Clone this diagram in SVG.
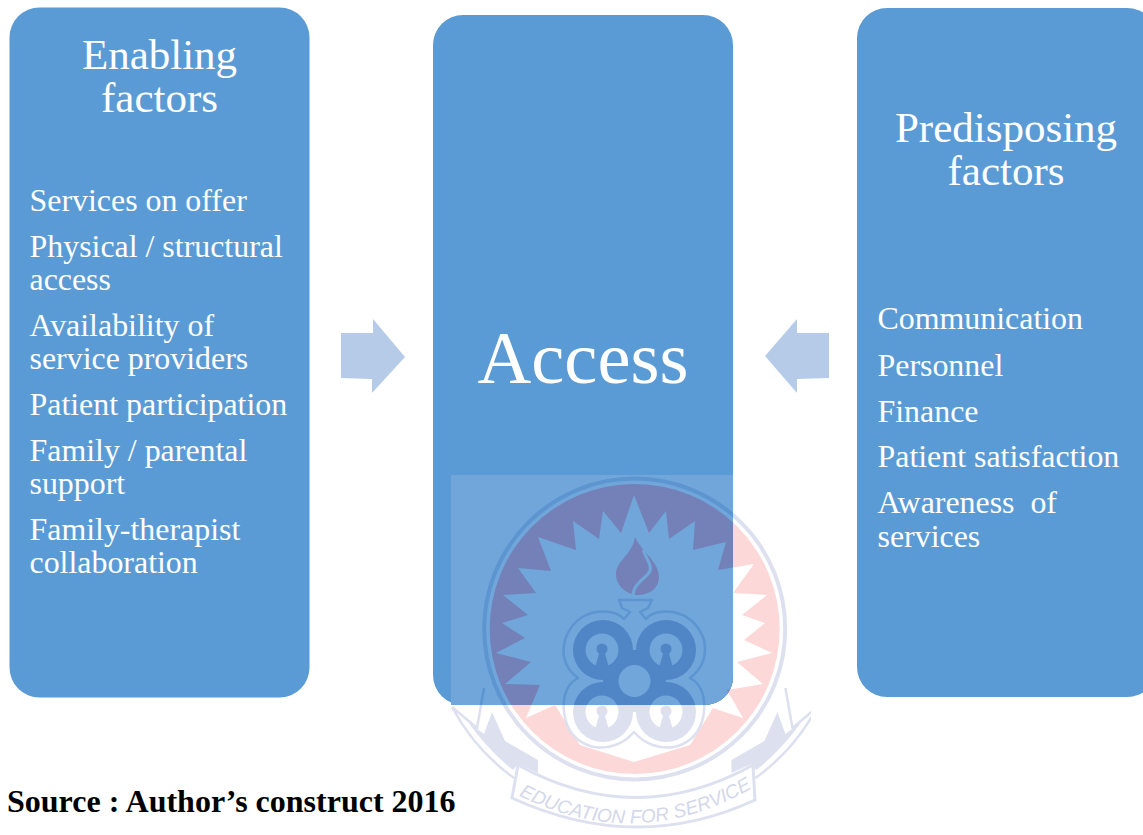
<svg xmlns="http://www.w3.org/2000/svg" xmlns:xlink="http://www.w3.org/1999/xlink" width="1143" height="835" viewBox="0 0 1143 835">
<style>
text{font-family:"Liberation Serif","Times New Roman",serif;fill:#fff}
.box{fill:#5B9BD5}
.arrow{fill:#B6CBE8}
.title{font-size:43px;text-anchor:middle}
.item{font-size:31.900px}
.wbg{fill:var(--w)}
.wring{fill:var(--w);stroke:var(--l);stroke-width:4}
.wpink{fill:var(--p)}
.wstar{fill:var(--w)}
.wline{fill:none;stroke:var(--l);stroke-width:2.5;stroke-linejoin:round}
.wfill{fill:var(--l)}
.wclover{fill:var(--c)}
.wflame{fill:var(--p)}
.wcut{fill:none;stroke:var(--w);stroke-width:3}
.whole{fill:var(--w)}
.wdark{fill:var(--c)}
.wband{fill:var(--b);stroke:var(--l);stroke-width:3}
.wtext{font-family:"Liberation Sans",Arial,sans-serif;font-size:19px;font-style:italic;fill:var(--t)}
.out{--w:#fff;--p:#FDD8D8;--l:#DDE0EF;--c:#DDE0EF;--b:#fff;--t:#D3D7EA}
.in{--w:#70A6DA;--p:#7480B8;--l:#5C95D0;--c:#5085C6;--b:#70A6DA;--t:#5C95D0}
#src{font-size:32px;font-weight:bold;fill:#000}
</style>
<defs>
<clipPath id="imgclip"><rect x="451" y="475" width="360" height="360"/></clipPath>
<clipPath id="boxclip"><path d="M451,475H733V677A28,28 0 0 1 705,705H451Z"/></clipPath>
<path id="textcurve" d="M522,797Q636,853 749,790"/>
<g id="tail">
<path class="wline" d="M452,707Q475,750 514,778M452,707L477,728L484,688"/>
<path class="wfill" d="M492,712L484,734L468,722Q488,750 513,770L518,764L538,773V760L505,741Z"/>
</g>
<g id="seal">
<rect class="wbg" x="451" y="475" width="360" height="360"/>
<use xlink:href="#tail"/>
<use xlink:href="#tail" transform="translate(1269.4 0) scale(-1 1)"/>
<circle class="wring" cx="634.7" cy="629" r="150.5"/>
<circle class="wpink" cx="634.7" cy="629" r="145"/>
<polygon class="wstar" points="634,495 649,533 666,511 669,539 695,521 693,550 726,542 718,570 754,564 733,593 767,595 742,615 765,623 744,640 772,653 737,662 763,684 727,690 743,718 713,708 690,745 634,762 580,745 555,705 526,718 540,685 505,684 531,662 496,653 525,638 502,623 528,615 503,595 536,593 518,568 551,571 538,537 576,550 573,521 599,539 603,511 621,533"/>
<path class="wflame" d="M635,537C642,552 659,562 659,577C659,588 650,595 637,595C632,595 617,590 616,575C616,560 632,556 635,537Z"/>
<path class="wcut" d="M643,550C648,562 654,568 648,574C642,580 633,586 633,596"/>
<path class="wline" d="M619,600H652L648,608L640,612L646,619C655,607 692,606 704,640C708,660 698,672 690,678C702,684 708,700 702,722C692,752 655,756 634,732C613,756 576,752 566,722C560,700 566,684 578,678C570,672 560,660 565,640C576,606 614,607 624,619L630,612L622,608Z"/>
<g class="wclover">
<circle cx="603" cy="650" r="30"/>
<circle cx="666" cy="650" r="30"/>
<circle cx="603" cy="712" r="30"/>
<circle cx="666" cy="712" r="30"/>
<rect x="603" y="650" width="63" height="62"/>
</g>
<circle class="whole" cx="634.5" cy="681" r="16"/>
<g id="kh1">
<circle class="whole" cx="602" cy="650" r="16.5"/>
<circle class="wdark" cx="602" cy="649" r="5.5"/>
<path class="wdark" d="M599.500,652H604.500L609,668H595Z"/>
</g>
<use xlink:href="#kh1" transform="translate(64 0)"/>
<use xlink:href="#kh1" transform="translate(0 62)"/>
<use xlink:href="#kh1" transform="translate(64 62)"/>
<path class="wband" d="M518,765Q636,830 753,765L755,800Q636,855 512,798Z"/>
<text class="wtext" text-anchor="middle"><textPath xlink:href="#textcurve" startOffset="50%">EDUCATION FOR SERVICE</textPath></text>
</g>
</defs>
<g id="watermark" class="out" clip-path="url(#imgclip)"><use xlink:href="#seal"/></g>
<g id="enabling">
<rect class="box" x="9.500" y="7.500" width="300" height="690" rx="30"/>
<text class="title" x="159.500" y="68.500">Enabling</text>
<text class="title" x="159.500" y="112">factors</text>
<text class="item" x="29.500" y="211">Services on offer</text>
<text class="item" x="29.500" y="257">Physical / structural</text>
<text class="item" x="29.500" y="290">access</text>
<text class="item" x="29.500" y="336">Availability of</text>
<text class="item" x="29.500" y="369">service providers</text>
<text class="item" x="29.500" y="415">Patient participation</text>
<text class="item" x="29.500" y="461">Family / parental</text>
<text class="item" x="29.500" y="494">support</text>
<text class="item" x="29.500" y="540">Family-therapist</text>
<text class="item" x="29.500" y="573">collaboration</text>
</g>
<g id="access">
<rect class="box" x="433" y="15" width="300" height="690" rx="30"/>
<g class="in" clip-path="url(#boxclip)"><use xlink:href="#seal"/></g>
<text x="583" y="383" font-size="74.500" text-anchor="middle">Access</text>
</g>
<g id="predisposing">
<rect class="box" x="857" y="8" width="300" height="689" rx="30"/>
<text class="title" x="1006" y="141.500">Predisposing</text>
<text class="title" x="1006" y="185">factors</text>
<text class="item" x="877.500" y="329">Communication</text>
<text class="item" x="877.500" y="376">Personnel</text>
<text class="item" x="877.500" y="422">Finance</text>
<text class="item" x="877.500" y="467">Patient satisfaction</text>
<text class="item" x="877.500" y="513" style="white-space:pre">Awareness  of</text>
<text class="item" x="877.500" y="547">services</text>
</g>
<g id="connectors">
<polygon class="arrow" points="341,333 373,333 373,319 405,357 372,393 372,379 341,378"/>
<polygon class="arrow" points="829,333 797,333 797,319 765,356 797,393 797,379 829,378"/>
</g>
<text id="src" x="7" y="812">Source : Author’s construct 2016</text>
</svg>
